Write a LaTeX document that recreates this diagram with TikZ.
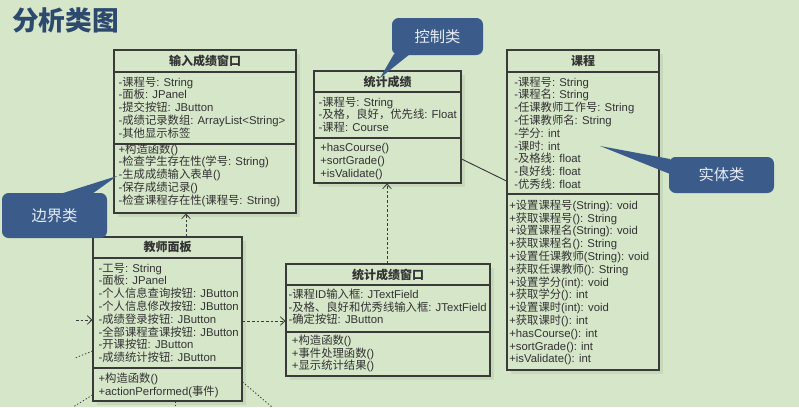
\documentclass[tikz,border=0pt]{standalone}
\usepackage{fontspec}
\setmainfont{Liberation Sans}
\newfontfamily\cjk{Noto Sans CJK SC}
\usetikzlibrary{arrows.meta,fit}
% automatic switch to the CJK font for CJK characters
\XeTeXinterchartokenstate=1
\newXeTeXintercharclass\CJKclass
\newcount\cjkc
\cjkc="4E00
\loop\XeTeXcharclass\cjkc=\CJKclass\advance\cjkc by 1 \ifnum\cjkc<"9FFF\repeat
\XeTeXcharclass"3001=\CJKclass
\XeTeXcharclass"3002=\CJKclass
\XeTeXcharclass"FF0C=\CJKclass
\XeTeXinterchartoks 0 \CJKclass={\begingroup\cjk}
\XeTeXinterchartoks 4095 \CJKclass={\begingroup\cjk}
\XeTeXinterchartoks \CJKclass 0={\endgroup}
\XeTeXinterchartoks \CJKclass 4095={\endgroup}

\definecolor{bg}{HTML}{D5E6C9}
\definecolor{shadowc}{HTML}{C6D9B8}
\definecolor{linec}{HTML}{3A3A3A}
\definecolor{txtc}{HTML}{333333}
\definecolor{titlec}{HTML}{2D4A6E}
\definecolor{callc}{HTML}{3B5B8A}
\definecolor{calltxt}{HTML}{E6EDF4}

\tikzset{
  umlbox/.style={draw=linec, line width=0.8pt, inner sep=0pt, fill=bg},
  sepline/.style={draw=linec, line width=0.8pt},
  txt/.style={inner sep=0pt, text=txtc, font=\fontsize{8.5pt}{9.6pt}\selectfont},
  ttl/.style={inner sep=0pt, text=txtc, font=\fontsize{9pt}{10pt}\selectfont\bfseries},
  dep/.style={draw=linec, line width=0.6pt, dash pattern=on 2pt off 1.5pt,
    -{Straight Barb[length=3.5pt,width=6.5pt]}},
  dotl/.style={draw=linec, line width=0.6pt, dash pattern=on 1pt off 1.5pt},
  assoc/.style={draw=linec, line width=0.7pt},
  callbox/.style={fill=callc, rounded corners=5pt, inner sep=0pt, text=calltxt,
    font=\fontsize{11.5pt}{13pt}\selectfont},
}

% box: name, x1, y1, x2, y2, header y, separator y
\newcommand\umlframe[7]{%
  \fill[shadowc] (#2+4,#3+4) rectangle (#4+4,#5+4);
  \node[umlbox, fit={(#2,#3)(#4,#5)}] (#1) {};
  \draw[sepline] (#2,#6) -- (#4,#6);
  \draw[sepline] (#2,#7) -- (#4,#7);
}
% rows: name prefix, x, first baseline, list
\newcommand\umlrows[4]{%
  \foreach \lbl [count=\rowi] in {#4} {%
    \node[txt, anchor=base west] (#1\rowi) at (#2, {#3+(\rowi-1)*12.8}) {\lbl};}%
}

\begin{document}
\begin{tikzpicture}[x=0.75pt, y=-0.75pt]
\fill[bg] (0,0) rectangle (799,407);
\useasboundingbox (0,0) rectangle (799,407);

\node[anchor=west, inner sep=0pt, text=titlec, font=\fontsize{20pt}{24pt}\selectfont\bfseries] (title) at (12,20.5) {分析类图};

% 输入成绩窗口
\umlframe{input}{114}{50}{296}{213}{72}{144}
\node[ttl] (inputt) at (205,61) {输入成绩窗口};
\umlrows{ia}{118.3}{86}{-课程号: String, -面板: JPanel, -提交按钮: JButton, -成绩记录数组: ArrayList<String>, -其他显示标签}
\umlrows{im}{118.3}{153}{+构造函数(), -检查学生存在性(学号: String), -生成成绩输入表单(), -保存成绩记录(), -检查课程存在性(课程号: String)}

% 统计成绩
\umlframe{stat}{314}{71}{461}{183}{92}{138}
\node[ttl] (statt) at (387.5,81.7) {统计成绩};
\umlrows{sa}{318.3}{106}{-课程号: String, -及格，良好，优先线: Float, -课程: Course}
\umlrows{sm}{320}{151.5}{+hasCourse(), +sortGrade(), +isValidate()}

% 课程
\umlframe{course}{507}{50}{659}{370}{72}{194}
\node[ttl] (courset) at (583,60.7) {课程};
\umlrows{ca}{514}{86}{-课程号: String, -课程名: String, -任课教师工作号: String, -任课教师名: String, -学分: int, -课时: int, -及格线: float, -良好线: float, -优秀线: float}
\umlrows{cm}{509}{209.3}{+设置课程号(String): void, +获取课程号(): String, +设置课程名(String): void, +获取课程名(): String, +设置任课教师(String): void, +获取任课教师(): String, +设置学分(int): void, +获取学分(): int, +设置课时(int): void, +获取课时(): int, +hasCourse(): int, +sortGrade(): int, +isValidate(): int}

% 教师面板
\umlframe{teacher}{93}{237}{242}{401}{258}{368}
\node[ttl] (teachert) at (167.5,246.7) {教师面板};
\umlrows{ta}{98.3}{272}{-工号: String, -面板: JPanel, -个人信息查询按钮: JButton, -个人信息修改按钮: JButton, -成绩登录按钮: JButton, -全部课程查课按钮: JButton, -开课按钮: JButton, -成绩统计按钮: JButton}
\umlrows{tm}{98.3}{382.6}{+构造函数(), +actionPerformed(事件)}

% 统计成绩窗口
\umlframe{statwin}{286}{264}{490}{376}{285}{332}
\node[ttl] (statwint) at (388,275) {统计成绩窗口};
\umlrows{wa}{288.3}{298.3}{-课程ID输入框: JTextField, -及格、良好和优秀线输入框: JTextField, -确定按钮: JButton}
\umlrows{wm}{291.7}{344.3}{+构造函数(), +事件处理函数(), +显示统计结果()}

% connectors
\draw[dep] (teacher.north -| 186,0) -- (input.south -| 186,0);
\draw[dep] (statwin.north -| 387,0) -- (stat.south -| 387,0);
\draw[dep] (teacher.east |- 0,321) -- (statwin.west |- 0,321);
\draw[assoc] (stat.east |- 0,159) -- (course.west |- 0,181);
\coordinate (in1) at (76,320);
\draw[dep] (in1) -- (teacher.west |- 0,320);
\coordinate (o1) at (75,358);
\draw[dotl] (teacher.west |- 0,351) -- (o1);
\coordinate (o2) at (73,407);
\draw[dotl] (teacher.west |- 0,395) -- (o2);
\coordinate (o3) at (272,407);
\draw[dotl] (teacher.east |- 0,382) -- (o3);
\coordinate (o4) at (175,407);
\draw[dotl] (teacher.south -| 175,0) -- (o4);

% callouts
\fill[callc] (394,54) -- (380,78) -- (410,54) -- cycle;
\node[callbox, minimum width=68.25pt, minimum height=27.75pt] (ctrl) at (437.5,36.5) {控制类};
\fill[callc] (60,194) -- (117,176) -- (92,194) -- cycle;
\node[callbox, minimum width=78.75pt, minimum height=33.75pt] (bound) at (54.5,215.5) {边界类};
\fill[callc] (670,159) -- (600,146) -- (670,174) -- cycle;
\node[callbox, minimum width=78.75pt, minimum height=27pt] (entity) at (721.5,175) {实体类};
\end{tikzpicture}
\end{document}
